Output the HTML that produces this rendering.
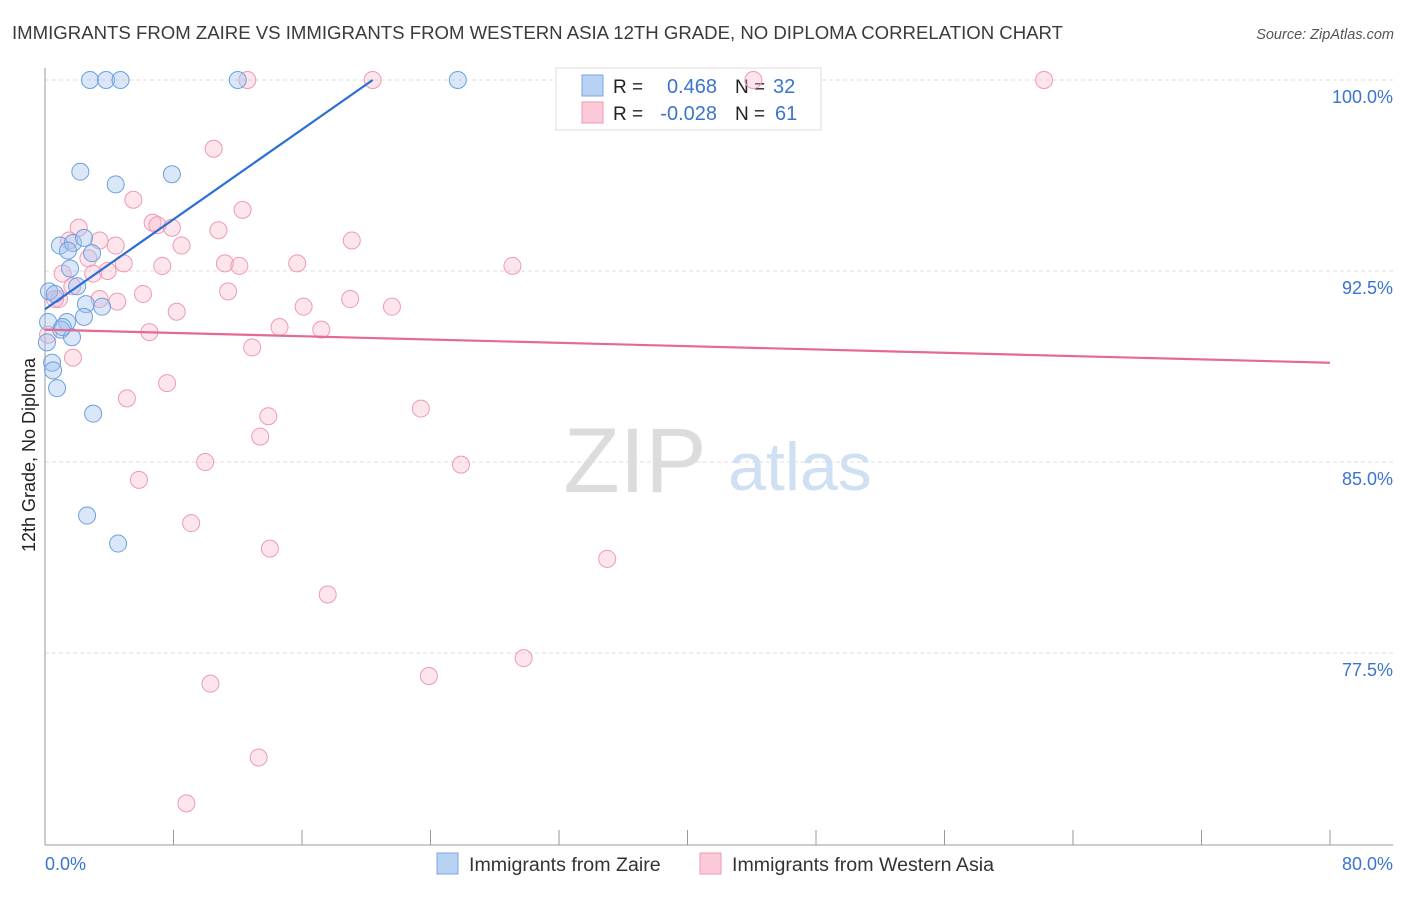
<!DOCTYPE html>
<html><head><meta charset="utf-8">
<style>
body{margin:0;background:#fff;font-family:"Liberation Sans",sans-serif;}
svg text{font-family:"Liberation Sans",sans-serif;}
</style></head>
<body>
<svg id="chart" width="1406" height="892" xmlns="http://www.w3.org/2000/svg">
<text x="12" y="39" font-size="18.6" fill="#3a3a3a">IMMIGRANTS FROM ZAIRE VS IMMIGRANTS FROM WESTERN ASIA 12TH GRADE, NO DIPLOMA CORRELATION CHART</text>
<text x="1394" y="39" font-size="14.5" font-style="italic" fill="#555" text-anchor="end">Source: ZipAtlas.com</text>
<g id="grid"></g>
<text x="635" y="492" font-size="92" font-family="Liberation Serif" fill="#dcdcdc" text-anchor="middle">ZIP</text>
<text x="800" y="490" font-size="68" fill="#cfe0f3" text-anchor="middle">atlas</text>
<g>
<rect x="556" y="68" width="265" height="62" fill="#fff" stroke="#ddd"/>
<rect x="582" y="75" width="21" height="21" fill="#b8d2f3" stroke="#7aa6e0"/>
<rect x="582" y="102" width="21" height="21" fill="#fbc9d7" stroke="#ee9ab4"/>
<text x="613" y="93" font-size="19" fill="#222">R =</text><text x="717" y="93" font-size="20" fill="#3a74d0" text-anchor="end">0.468</text>
<text x="735" y="93" font-size="19" fill="#222">N =</text><text x="773" y="93" font-size="20" fill="#3a74d0">32</text>
<text x="613" y="120" font-size="19" fill="#222">R =</text><text x="717" y="120" font-size="20" fill="#3a74d0" text-anchor="end">-0.028</text>
<text x="735" y="120" font-size="19" fill="#222">N =</text><text x="775" y="120" font-size="20" fill="#3a74d0">61</text>
</g>
<g id="pts"></g>
<g id="lines"></g>
<text transform="translate(35,455) rotate(-90)" font-size="18" fill="#222" text-anchor="middle">12th Grade, No Diploma</text>
<g>
<rect x="437" y="853" width="21" height="21" fill="#b8d2f3" stroke="#7aa6e0"/>
<text x="469" y="871" font-size="19.6" fill="#333">Immigrants from Zaire</text>
<rect x="700" y="853" width="21" height="21" fill="#fbc9d7" stroke="#ee9ab4"/>
<text x="732" y="871" font-size="19.6" fill="#333">Immigrants from Western Asia</text>
</g>
</svg>
<script>
const blueX=[2.8,3.8,4.7,12,25.7,2.2,4.4,7.9,0.93,1.74,2.43,2.93,1.43,1.56,0.25,0.62,2,2.55,3.55,2.43,1.37,1,1.68,0.19,0.44,0.5,0.75,3,2.62,4.55,0.12,1.1];
const blueY=[100,100,100,100,100,96.4,95.9,96.3,93.5,93.6,93.8,93.2,93.3,92.6,91.7,91.6,91.9,91.2,91.1,90.7,90.5,90.2,89.9,90.5,88.9,88.6,87.9,86.9,82.9,81.8,89.7,90.3];
const pinkX=[12.6,20.4,44.1,62.2,10.5,5.5,12.3,6.7,7,7.9,2.1,10.8,1.5,4.4,3.4,8.5,19.1,2.7,4.9,7.3,11.2,12.1,15.7,29.1,1.1,3,3.9,1.7,6.1,11.4,3.4,4.5,0.87,19,21.6,16.1,8.2,14.6,17.2,6.5,0.19,12.9,1.74,7.6,5.1,23.4,13.9,13.4,9.97,25.9,5.85,9.1,14,35,17.6,29.8,23.9,10.3,13.3,8.8,0.62];
const pinkY=[100,100,100,100,97.3,95.3,94.9,94.4,94.3,94.2,94.2,94.1,93.7,93.5,93.7,93.5,93.7,93,92.8,92.7,92.8,92.7,92.8,92.7,92.4,92.4,92.5,91.9,91.6,91.7,91.4,91.3,91.4,91.4,91.1,91.1,90.9,90.3,90.2,90.1,90,89.5,89.1,88.1,87.5,87.1,86.8,86,85,84.9,84.3,82.6,81.6,81.2,79.8,77.3,76.6,76.3,73.4,71.6,91.4];
const blueLine=[0,91,20.4,100];
const pinkLine=[0,90.2,80,88.9];
const xTicks=[0,8,16,24,32,40,48,56,64,72,80];
const yTicks=[100,92.5,85,77.5];
const yTickLabels=["100.0%","92.5%","85.0%","77.5%"];
const NS="http://www.w3.org/2000/svg";
const sx=v=>45+v*16.0625;
const sy=v=>80+(100-v)*25.47;
function mk(t,a,p){const e=document.createElementNS(NS,t);for(const k in a)e.setAttribute(k,a[k]);p.appendChild(e);return e;}
const grid=document.getElementById('grid');
yTicks.forEach((t,i)=>{
 const l=mk('line',{x1:45,x2:1393,y1:sy(t),y2:sy(t),stroke:'#ddd','stroke-dasharray':'4,3'},grid);
 
 
 const tx=mk('text',{x:1393,y:sy(t)+23,'font-size':18,fill:'#3a74d0','text-anchor':'end'},grid);
 tx.textContent=yTickLabels[i];
 
 
});
const ax=mk('line',{x1:45,x2:45,y1:68,y2:845,stroke:'#999'},grid);


const bx=mk('line',{x1:45,x2:1393,y1:845,y2:845,stroke:'#999'},grid);


xTicks.forEach(t=>{
 const l=mk('line',{x1:sx(t),x2:sx(t),y1:830,y2:845,stroke:'#999'},grid);
 
 
});
const x0=mk('text',{x:45,y:870,'font-size':18,fill:'#3a74d0'},grid);x0.textContent='0.0%';


const x1=mk('text',{x:1393,y:870,'font-size':18,fill:'#3a74d0','text-anchor':'end'},grid);x1.textContent='80.0%';


const pts=document.getElementById('pts');
pinkX.forEach((v,i)=>{
 const c=mk('circle',{cx:sx(v),cy:sy(pinkY[i]),r:8.5,fill:'rgba(248,180,200,0.35)',stroke:'#ee9ab4','stroke-width':1},pts);
 
 
});
blueX.forEach((v,i)=>{
 const c=mk('circle',{cx:sx(v),cy:sy(blueY[i]),r:8.5,fill:'rgba(160,196,240,0.4)',stroke:'#6f9fdc','stroke-width':1},pts);
 
 
});
const lines=document.getElementById('lines');
const bl=mk('line',{x1:sx(blueLine[0]),y1:sy(blueLine[1]),x2:sx(blueLine[2]),y2:sy(blueLine[3]),stroke:'#2a6fd6','stroke-width':2.2},lines);


const pl=mk('line',{x1:sx(pinkLine[0]),y1:sy(pinkLine[1]),x2:sx(pinkLine[2]),y2:sy(pinkLine[3]),stroke:'#e56a93','stroke-width':2.2},lines);


</script>
</body></html>
